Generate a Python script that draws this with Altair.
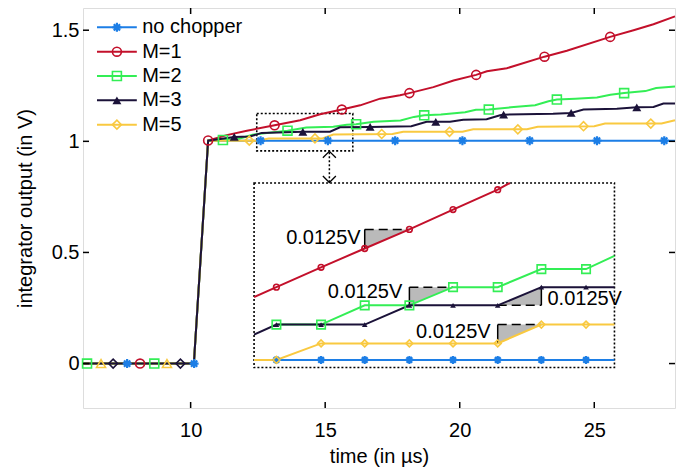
import altair as alt
import pandas as pd

FONT = "Liberation Sans"
W, H = 592, 400
X0, X1 = 6.0, 28.0
Y0, Y1 = -0.2, 1.6

series = ["no chopper", "M=1", "M=2", "M=3", "M=5"]
colors = ["#1c7ee6", "#c3102b", "#33ee55", "#1b1239", "#f9c940"]
x_ticks = [10, 15, 20, 25]
y_ticks = [0, 0.5, 1, 1.5]

# ---------------- main traces ----------------
pre_x = [6.0, 10.12]
pre_y = [0.0, 0.0]

nc_x = [10.65, 28.0]
nc_y = [1.003, 1.003]

m1_x = [10.65, 11.34, 12.09, 13.12, 14.07, 14.81, 15.62, 16.30, 17.04, 17.78, 18.13,
        19.02, 19.77, 20.61, 21.01, 21.75, 23.15, 23.98, 25.59, 26.46, 27.2, 28.0]
m1_y = [1.004, 1.028, 1.048, 1.072, 1.095, 1.122, 1.143, 1.162, 1.192, 1.207, 1.217,
        1.244, 1.274, 1.299, 1.315, 1.329, 1.381, 1.408, 1.470, 1.500, 1.527, 1.5625]

m2_x = [10.65, 11.2, 11.8, 12.3, 13.0, 13.6, 14.3, 15.3, 15.8, 16.15, 16.8, 17.8, 18.3,
        18.68, 19.3, 20.2, 20.6, 21.08, 21.9, 22.8, 23.3, 23.61, 24.3, 25.1, 25.6, 26.11,
        26.9, 27.3, 28.0]
m2_y = [1.003, 1.006, 1.012, 1.030, 1.040, 1.048, 1.062, 1.066, 1.075, 1.077, 1.088, 1.094,
        1.110, 1.117, 1.121, 1.131, 1.142, 1.143, 1.153, 1.162, 1.180, 1.188, 1.192, 1.197,
        1.210, 1.217, 1.226, 1.240, 1.247]

m3_x = [10.65, 11.62, 12.2, 12.64, 14.17, 15.18, 15.55, 16.67, 18.2, 18.77, 19.11, 19.64,
        20.13, 21.0, 21.5, 21.63, 23.47, 24.14, 24.6, 25.84, 26.58, 27.2, 27.57, 28.0]
m3_y = [1.003, 1.020, 1.022, 1.038, 1.043, 1.043, 1.063, 1.065, 1.068, 1.088, 1.088, 1.088,
        1.097, 1.099, 1.117, 1.120, 1.124, 1.128, 1.143, 1.147, 1.153, 1.155, 1.170, 1.170]

m5_x = [10.65, 12.5, 12.9, 14.9, 15.3, 17.5, 17.9, 20.1, 20.5, 22.5, 22.9, 25.0, 25.4,
        27.5, 28.0]
m5_y = [1.003, 1.003, 1.013, 1.013, 1.031, 1.033, 1.043, 1.043, 1.054, 1.054, 1.066,
        1.068, 1.080, 1.080, 1.095]

# main markers
nc_mx = [7.64, 10.13, 12.6, 15.1, 17.6, 20.1, 22.6, 25.1, 27.6]
nc_my = [0, 0, 1.003, 1.003, 1.003, 1.003, 1.003, 1.003, 1.003]
m1_mx = [8.12, 10.65, 13.12, 15.62, 18.13, 20.61, 23.15, 25.59]
m1_my = [0, 1.004, 1.072, 1.143, 1.217, 1.299, 1.381, 1.470]
m2_mx = [6.15, 8.65, 11.2, 13.6, 16.15, 18.68, 21.08, 23.61, 26.11]
m2_my = [0, 0, 1.006, 1.048, 1.077, 1.117, 1.143, 1.188, 1.217]
m3_mx = [7.12, 9.62, 11.62, 14.17, 16.67, 19.11, 21.63, 24.14, 26.58]
m3_my = [0, 0, 1.020, 1.043, 1.065, 1.088, 1.120, 1.128, 1.153]
m5_mx = [6.67, 9.12, 12.18, 14.62, 17.1, 19.62, 22.16, 24.6, 27.1]
m5_my = [0, 0, 1.003, 1.013, 1.033, 1.043, 1.054, 1.068, 1.080]

# ---------------- inset (zoomed) traces ----------------
ins_t = [12.67, 13.11, 13.54, 13.98, 14.41, 14.85, 15.28, 15.72]
ins_lo, ins_hi = 12.45, 16.0
ins_nc_y = [1.0051, 1.0051, 1.0051, 1.0051, 1.0051, 1.0051, 1.0051, 1.0051, 1.0051, 1.0051]
ins_m5_y = [1.0051, 1.0051, 1.0162, 1.0162, 1.0162, 1.0162, 1.0162, 1.0288, 1.0288, 1.0288]
ins_m3_y = [1.0221, 1.0288, 1.0288, 1.0288, 1.0417, 1.0417, 1.0417, 1.0539, 1.0539, 1.0539]
ins_m2_y = [1.0288, 1.0288, 1.0417, 1.0417, 1.0539, 1.0539, 1.0660, 1.0660, 1.0749]
ins_m1_x = [12.45, 12.67, 13.11, 13.54, 13.98, 14.41, 14.85, 14.97]
ins_m1_y = [1.0472, 1.0539, 1.0672, 1.0798, 1.0926, 1.1059, 1.1192, 1.1237]

# annotations (0.0125 V steps)
ann_t1 = [13.54, 13.98, 14.85, 14.85]
ann_t2 = [13.98, 14.41, 15.28, 15.28]
ann_lo = [1.0798, 1.0417, 1.0417, 1.0162]
ann_hi = [1.0926, 1.0539, 1.0539, 1.0288]
ann_side = ["left", "left", "right", "left"]
ann_text = ["0.0125V", "0.0125V", "0.0125V", "0.0125V"]
lab_x = [13.50, 13.91, 15.34, 14.78]
lab_y = [1.0871, 1.0505, 1.0461, 1.0239]

# ---------------- layout constants ----------------
SMALL_BOX = (12.457, 16.026, 0.957, 1.125)
INSET_BOX = (12.357, 25.75, -0.018, 0.8125)
ARROW_X = 15.156


def px(x):
    return (x - X0) / (X1 - X0) * W


def py(v):
    return (Y1 - v) / (Y1 - Y0) * H


ASTER = "M -1 0 L 1 0 M 0 -1 L 0 1 M -0.7 -0.7 L 0.7 0.7 M -0.7 0.7 L 0.7 -0.7"
base_shape = {"no chopper": ASTER, "M=1": "circle", "M=2": "square",
              "M=3": "triangle-up", "M=5": "diamond"}
swap_shape = {"M=3": "diamond", "M=5": "triangle-up"}

cscale = alt.Scale(domain=series, range=colors)
xs = alt.Scale(domain=[X0, X1], nice=False, zero=False)
ys = alt.Scale(domain=[Y0, Y1], nice=False, zero=False)
xaxis = alt.Axis(values=x_ticks, ticks=False, domain=False, grid=False,
                 labelFont=FONT, labelFontSize=20, labelColor="black", labelPadding=12,
                 title="time (in µs)", titleFont=FONT, titleFontSize=20,
                 titleFontWeight="normal", titleColor="black", titlePadding=6)
yaxis = alt.Axis(values=y_ticks, ticks=False, domain=False, grid=False, format="~g",
                 labelFont=FONT, labelFontSize=20, labelColor="black", labelPadding=4,
                 title="integrator output (in V)", titleFont=FONT, titleFontSize=20,
                 titleFontWeight="normal", titleColor="black", titlePadding=16)


def MX(f, **kw):
    return alt.X(f, type="quantitative", scale=xs, axis=xaxis, **kw)


def MY(f, **kw):
    return alt.Y(f, type="quantitative", scale=ys, axis=yaxis, **kw)


ixs = alt.Scale(domain=[ins_lo, ins_hi], range=[px(INSET_BOX[0]), px(INSET_BOX[1])],
                nice=False, zero=False)
iys = alt.Scale(domain=[1.0, 1.1237], range=[py(INSET_BOX[2]), py(INSET_BOX[3])],
                nice=False, zero=False)


def IX(f):
    return alt.X(f, type="quantitative", scale=ixs, axis=None)


def IY(f):
    return alt.Y(f, type="quantitative", scale=iys, axis=None)


COL = alt.Color("s:N", scale=cscale, legend=None)
SW = alt.StrokeWidth("sw:Q", scale=None)

# ---------------- build main data ----------------
lines = {"no chopper": (nc_x, nc_y), "M=1": (m1_x, m1_y), "M=2": (m2_x, m2_y),
         "M=3": (m3_x, m3_y), "M=5": (m5_x, m5_y)}
marks = {"no chopper": (nc_mx, nc_my), "M=1": (m1_mx, m1_my), "M=2": (m2_mx, m2_my),
         "M=3": (m3_mx, m3_my), "M=5": (m5_mx, m5_my)}

draw_order = ["no chopper", "M=1", "M=2", "M=5", "M=3"]

main_layers = []

# inset frame (white) and small zoom box
boxes = pd.DataFrame({"x": [INSET_BOX[0], SMALL_BOX[0]], "x2": [INSET_BOX[1], SMALL_BOX[1]],
                      "y": [INSET_BOX[2], SMALL_BOX[2]], "y2": [INSET_BOX[3], SMALL_BOX[3]],
                      "fo": [1.0, 0.0]})
main_layers.append(
    alt.Chart(boxes).mark_rect(fill="white", stroke="black", strokeWidth=1.6,
                               strokeDash=[2, 2]).encode(
        x=MX("x"), x2="x2", y=MY("y"), y2="y2",
        fillOpacity=alt.FillOpacity("fo:Q", scale=None))
)

for s in draw_order:
    xx, yy = lines[s]
    df = pd.DataFrame({"x": pre_x + xx, "y": pre_y + yy, "s": s})
    df["i"] = range(len(df))
    main_layers.append(
        alt.Chart(df).mark_line(strokeWidth=2).encode(
            x=MX("x"), y=MY("y"), color=COL, order="i:Q")
    )

mrows = []
for s in draw_order:
    mx, my = marks[s]
    for x, y in zip(mx, my):
        shp = base_shape[s]
        if y == 0 and s in swap_shape:
            shp = swap_shape[s]
        mrows.append({"s": s, "x": x, "y": y, "shape": shp,
                      "filled": shp == "triangle-up" and y > 0,
                      "sw": 2.2 if s == "no chopper" else 1.6})
mdf = pd.DataFrame(mrows)
main_layers.append(
    alt.Chart(mdf[~mdf["filled"]]).mark_point(filled=False, size=80, opacity=1).encode(
        x=MX("x"), y=MY("y"), color=COL, shape=alt.Shape("shape:N", scale=None),
        strokeWidth=SW)
)
main_layers.append(
    alt.Chart(mdf[mdf["filled"]]).mark_point(filled=True, size=80, opacity=1).encode(
        x=MX("x"), y=MY("y"), color=COL, shape=alt.Shape("shape:N", scale=None))
)

# inward ticks on all four sides
tl_y = 6 * (Y1 - Y0) / H
tl_x = 6 * (X1 - X0) / W
trows = []
for t in x_ticks:
    trows.append({"x": t, "x2": t, "y": Y0, "y2": Y0 + tl_y})
    trows.append({"x": t, "x2": t, "y": Y1, "y2": Y1 - tl_y})
for t in y_ticks:
    trows.append({"x": X0, "x2": X0 + tl_x, "y": t, "y2": t})
    trows.append({"x": X1, "x2": X1 - tl_x, "y": t, "y2": t})
main_layers.append(
    alt.Chart(pd.DataFrame(trows)).mark_rule(color="black", strokeWidth=1.5).encode(
        x=MX("x"), x2="x2", y=MY("y"), y2="y2")
)

# double arrow between zoom box and inset
arrow = pd.DataFrame({"x": [ARROW_X], "y": [INSET_BOX[3] + 0.003], "y2": [SMALL_BOX[2] - 0.002]})
main_layers.append(
    alt.Chart(arrow).mark_rule(color="black", strokeWidth=1.5, strokeDash=[2, 2]).encode(
        x=MX("x"), y=MY("y"), y2="y2")
)
heads = pd.DataFrame({"x": [ARROW_X, ARROW_X], "y": [SMALL_BOX[2] - 0.0165, INSET_BOX[3] + 0.0165],
                      "shape": ["M -1 0.5 L 0 -0.5 L 1 0.5", "M -1 -0.5 L 0 0.5 L 1 -0.5"]})
main_layers.append(
    alt.Chart(heads).mark_point(filled=False, size=169, strokeWidth=1.3, color="black",
                                opacity=1).encode(
        x=MX("x"), y=MY("y"), shape=alt.Shape("shape:N", scale=None))
)

# legend
LEG_TOP, LEG_STEP = 1.513, 0.1095
leg = pd.DataFrame({"s": series})
leg["y"] = [LEG_TOP - i * LEG_STEP for i in range(len(series))]
leg["shape"] = [base_shape[s] for s in series]
leg["filled"] = [s == "M=3" for s in series]
leg["sw"] = [2.2 if s == "no chopper" else 1.6 for s in series]
main_layers.append(
    alt.Chart(leg).mark_rule(strokeWidth=2).encode(
        x=MX("a:Q"), x2="b:Q", y=MY("y"), color=COL
    ).transform_calculate(a="6.52", b="8.0")
)
main_layers.append(
    alt.Chart(leg[~leg["filled"]]).mark_point(filled=False, size=80, opacity=1).encode(
        x=MX("a:Q"), y=MY("y"), color=COL, shape=alt.Shape("shape:N", scale=None),
        strokeWidth=SW
    ).transform_calculate(a="7.26")
)
main_layers.append(
    alt.Chart(leg[leg["filled"]]).mark_point(filled=True, size=80, opacity=1).encode(
        x=MX("a:Q"), y=MY("y"), color=COL, shape=alt.Shape("shape:N", scale=None)
    ).transform_calculate(a="7.26")
)
main_layers.append(
    alt.Chart(leg).mark_text(align="left", baseline="middle", font=FONT, fontSize=20,
                             color="black").encode(
        x=MX("a:Q"), y=MY("y"), text="s:N"
    ).transform_calculate(a="8.2")
)

main = alt.layer(*main_layers)

# ---------------- inset ----------------
ins_layers = []
arows = []
rrows = []
for k in range(len(ann_t1)):
    t1, t2, lo, hi = ann_t1[k], ann_t2[k], ann_lo[k], ann_hi[k]
    if ann_side[k] == "left":
        arows += [{"id": k, "x": t1, "y": hi, "y2": lo}, {"id": k, "x": t2, "y": hi, "y2": hi}]
        rrows.append({"x": t1, "x2": t2, "y": hi, "y2": hi, "dash": 1})
        rrows.append({"x": t1, "x2": t1, "y": hi, "y2": lo, "dash": 0})
    else:
        arows += [{"id": k, "x": t1, "y": lo, "y2": lo}, {"id": k, "x": t2, "y": hi, "y2": lo}]
        rrows.append({"x": t1, "x2": t2, "y": lo, "y2": lo, "dash": 1})
        rrows.append({"x": t2, "x2": t2, "y": hi, "y2": lo, "dash": 0})
adf = pd.DataFrame(arows)
rdf = pd.DataFrame(rrows)
ins_layers.append(
    alt.Chart(adf).mark_area(color="#bababa", opacity=1, line=False).encode(
        x=IX("x"), y=IY("y"), y2="y2", detail="id:N")
)
ins_layers.append(
    alt.Chart(rdf[rdf["dash"] == 1]).mark_rule(color="black", strokeWidth=1.5,
                                               strokeDash=[9, 5]).encode(
        x=IX("x"), x2="x2", y=IY("y"), y2="y2")
)
ins_layers.append(
    alt.Chart(rdf[rdf["dash"] == 0]).mark_rule(color="black", strokeWidth=1.5).encode(
        x=IX("x"), x2="x2", y=IY("y"), y2="y2")
)

full_x = [ins_lo] + ins_t + [ins_hi]
ins_lines = {
    "no chopper": (full_x, ins_nc_y),
    "M=2": (ins_t + [ins_hi], ins_m2_y),
    "M=1": (ins_m1_x, ins_m1_y),
    "M=5": (full_x, ins_m5_y),
    "M=3": (full_x, ins_m3_y),
}
ins_order = ["no chopper", "M=2", "M=1", "M=5", "M=3"]
for s in ins_order:
    xx, yy = ins_lines[s]
    df = pd.DataFrame({"x": xx, "y": yy, "s": s})
    df["i"] = range(len(df))
    ins_layers.append(
        alt.Chart(df).mark_line(strokeWidth=2).encode(
            x=IX("x"), y=IY("y"), color=COL, order="i:Q")
    )

irows = []
for s in ins_order:
    xx, yy = ins_lines[s]
    for x, y in zip(xx, yy):
        if x in ins_t:
            irows.append({"s": s, "x": x, "y": y, "shape": base_shape[s],
                          "filled": s == "M=3",
                          "sw": 2.2 if s == "no chopper" else 1.6})
idf = pd.DataFrame(irows)
isize = {"no chopper": 64, "M=1": 32, "M=2": 72, "M=5": 48}
idf["sz"] = [isize.get(s, 32) for s in idf["s"]]
ins_layers.append(
    alt.Chart(idf[~idf["filled"]]).mark_point(filled=False, opacity=1).encode(
        x=IX("x"), y=IY("y"), color=COL, shape=alt.Shape("shape:N", scale=None),
        size=alt.Size("sz:Q", scale=None), strokeWidth=SW)
)
ins_layers.append(
    alt.Chart(idf[idf["filled"]]).mark_point(filled=True, size=32, opacity=1).encode(
        x=IX("x"), y=IY("y"), color=COL, shape=alt.Shape("shape:N", scale=None))
)

ldf = pd.DataFrame({"x": lab_x, "y": lab_y, "t": ann_text, "side": ann_side})
ins_layers.append(
    alt.Chart(ldf[ldf["side"] == "left"]).mark_text(align="right", baseline="middle", font=FONT,
                                                    fontSize=20, color="black").encode(
        x=IX("x"), y=IY("y"), text="t:N")
)
ins_layers.append(
    alt.Chart(ldf[ldf["side"] == "right"]).mark_text(align="left", baseline="middle", font=FONT,
                                                     fontSize=20, color="black").encode(
        x=IX("x"), y=IY("y"), text="t:N")
)

inset = alt.layer(*ins_layers)

chart = alt.layer(main, inset).resolve_scale(
    x="independent", y="independent", color="shared"
).properties(
    width=W, height=H,
    autosize=alt.AutoSizeParams(type="none"),
    padding={"left": 75, "top": 0, "right": 11, "bottom": 59},
).configure_view(stroke="black", strokeWidth=2.2).configure(font=FONT)

chart.save("out.html", embed_options={"renderer": "svg", "actions": False})
